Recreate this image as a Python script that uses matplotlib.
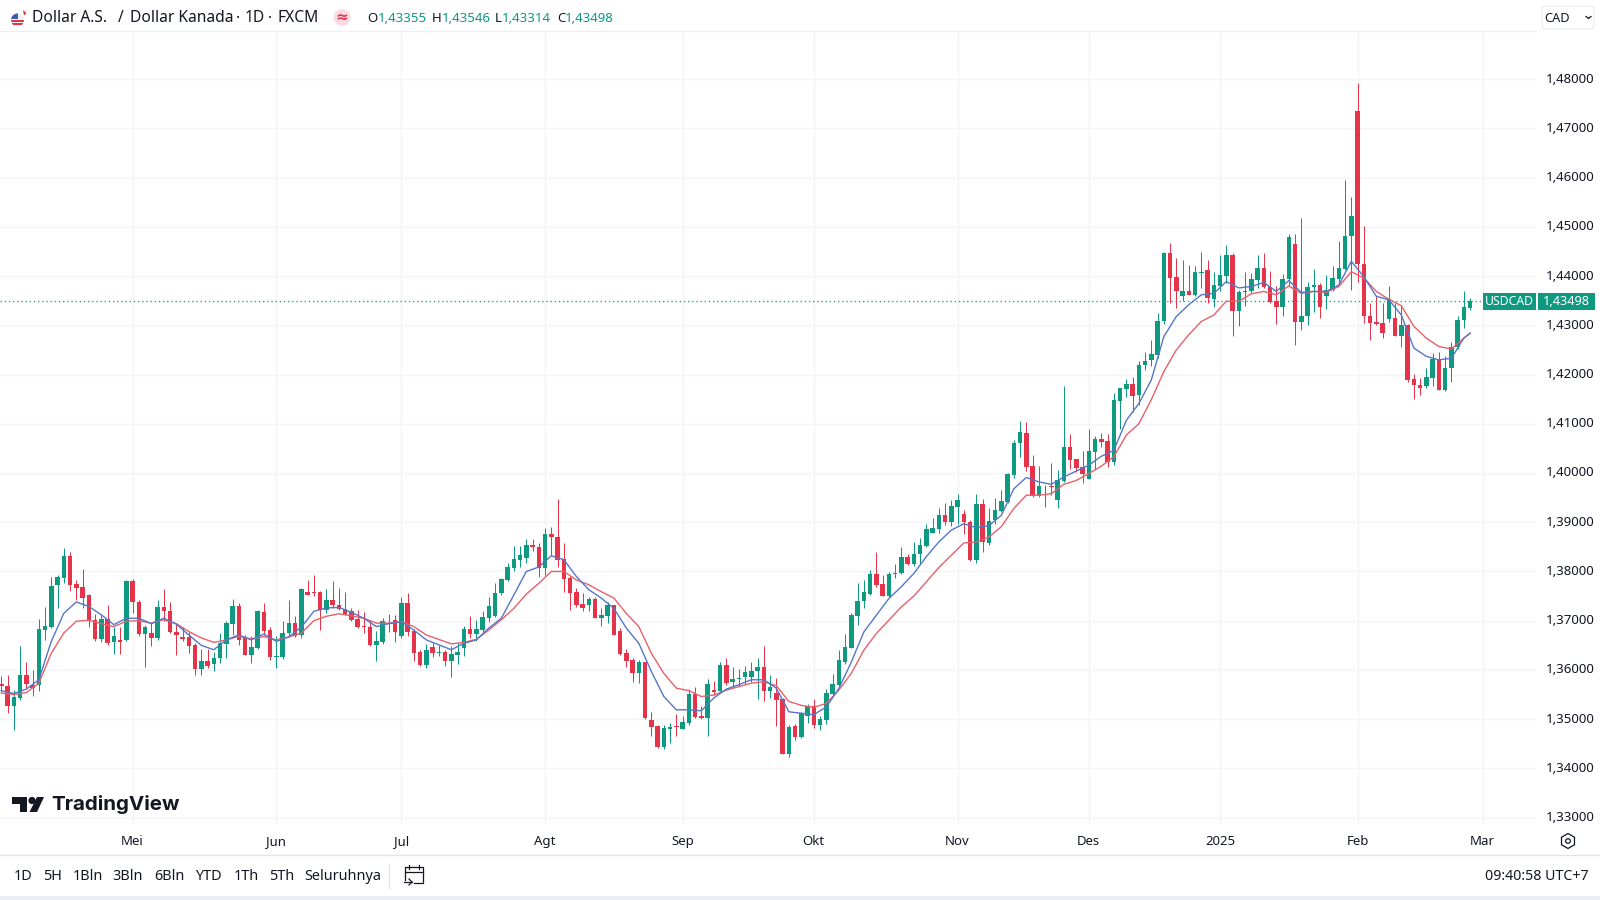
import numpy as np
import matplotlib
matplotlib.use("Agg")
import matplotlib.pyplot as plt
from matplotlib.patches import Rectangle, Circle, Polygon, FancyBboxPatch, RegularPolygon
from matplotlib.transforms import ScaledTranslation

plt.rcParams['font.family'] = ['Noto Sans', 'DejaVu Sans']

opens = [
 1.3572,1.3568,1.3526,1.3543,1.3590,1.3569,1.3570,1.3682,1.3688,1.3773,
 1.3787,1.3831,1.3775,1.3768,1.3753,1.3702,1.3663,1.3704,1.3656,1.3661,
 1.3660,1.3780,1.3739,1.3673,1.3675,1.3665,1.3727,1.3720,1.3678,1.3667,
 1.3666,1.3651,1.3602,1.3619,1.3612,1.3625,1.3653,1.3694,1.3730,1.3664,
 1.3631,1.3644,1.3718,1.3682,1.3627,1.3627,1.3675,1.3695,1.3670,1.3759,
 1.3759,1.3759,1.3722,1.3743,1.3732,1.3724,1.3719,1.3704,1.3690,1.3688,
 1.3650,1.3657,1.3701,1.3702,
 1.3668,1.3736,1.3680,1.3636,1.3609,1.3646,1.3635,1.3636,1.3619,1.3631,
 1.3644,1.3683,1.3673,1.3681,1.3706,1.3710,1.3756,1.3783,1.3807,1.3824,
 1.3827,1.3853,1.3849,1.3807,1.3876,1.3870,1.3825,1.3786,1.3758,1.3734,
 1.3732,1.3744,1.3705,1.3710,1.3731,1.3679,1.3634,1.3620,1.3593,1.3616,
 1.3499,1.3487,1.3443,1.3481,1.3486,1.3481,1.3493,1.3551,1.3507,1.3502,
 1.3559,1.3557,1.3610,1.3575,1.3581,1.3585,1.3585,1.3597,1.3606,1.3558,
 1.3554,1.3541,1.3430,1.3486,1.3463,1.3507,1.3526,
 1.3488,1.3499,1.3552,1.3569,1.3616,1.3645,1.3709,1.3740,1.3754,1.3795,
 1.3774,1.3750,1.3794,1.3796,1.3830,1.3815,1.3835,1.3851,1.3879,1.3887,
 1.3914,1.3901,1.3931,1.3916,1.3901,1.3823,1.3938,1.3858,1.3904,1.3923,
 1.3941,1.3997,1.4060,1.4081,1.4014,1.3954,1.3974,1.3973,1.3945,1.3983,
 1.4053,1.4028,1.4013,1.3987,1.4043,1.4069,1.4065,1.4023,1.4147,1.4170,
 1.4180,
 1.4158,1.4219,1.4229,1.4240,1.4308,1.4447,1.4398,1.4359,1.4370,1.4362,
 1.4407,1.4413,1.4354,1.4380,1.4401,1.4443,1.4330,1.4367,1.4369,1.4393,
 1.4416,1.4378,1.4349,1.4338,1.4394,1.4466,1.4306,1.4318,1.4377,1.4382,
 1.4359,1.4371,1.4394,1.4415,1.4481,1.4736,1.4425,1.4319,1.4306,1.4304,
 1.4313,1.4315,1.4279,1.4301,1.4191,1.4179,1.4177,1.4193,1.4230,1.4168,
 1.4214,1.4256,1.4310,1.43355]

highs = [
 1.3587,1.3590,1.3560,1.3648,1.3617,1.3600,1.3703,1.3727,1.3788,1.3793,
 1.3847,1.3839,1.3783,1.3805,1.3754,1.3714,1.3712,1.3732,1.3688,1.3688,
 1.3783,1.3785,1.3743,1.3692,1.3695,1.3743,1.3765,1.3739,1.3695,1.3688,
 1.3678,1.3655,1.3642,1.3642,1.3637,1.3675,1.3699,1.3744,1.3736,1.3671,
 1.3668,1.3721,1.3736,1.3688,1.3669,1.3699,1.3743,1.3709,1.3766,1.3783,
 1.3793,1.3761,1.3764,1.3780,1.3766,1.3758,1.3726,1.3722,1.3717,1.3702,
 1.3680,1.3705,1.3714,1.3712,
 1.3749,1.3756,1.3683,1.3641,1.3653,1.3654,1.3650,1.3641,1.3648,1.3654,
 1.3689,1.3709,1.3702,1.3719,1.3749,1.3776,1.3786,1.3817,1.3851,1.3851,
 1.3866,1.3866,1.3858,1.3888,1.3890,1.3947,1.3858,1.3790,1.3766,1.3757,
 1.3748,1.3748,1.3725,1.3739,1.3732,1.3685,1.3642,1.3624,1.3620,1.3617,
 1.3514,1.3488,1.3488,1.3492,1.3510,1.3507,1.3561,1.3566,1.3526,1.3582,
 1.3578,1.3617,1.3624,1.3606,1.3602,1.3608,1.3617,1.3624,1.3648,1.3590,
 1.3583,1.3543,1.3488,1.3490,1.3515,1.3531,1.3541,
 1.3506,1.3562,1.3591,1.3640,1.3674,1.3715,1.3776,1.3782,1.3804,1.3839,
 1.3793,1.3799,1.3815,1.3850,1.3836,1.3860,1.3868,1.3897,1.3908,1.3929,
 1.3939,1.3945,1.3958,1.3925,1.3904,1.3957,1.3948,1.3928,1.3950,1.3966,
 1.4000,1.4067,1.4105,1.4103,1.4036,1.4014,1.3975,1.4021,1.4007,1.4176,
 1.4079,1.4029,1.4044,1.4089,1.4075,1.4081,1.4079,1.4163,1.4173,1.4192,
 1.4195,
 1.4227,1.4245,1.4271,1.4325,1.4450,1.4467,1.4436,1.4433,1.4422,1.4420,
 1.4449,1.4433,1.4409,1.4443,1.4463,1.4448,1.4372,1.4409,1.4406,1.4443,
 1.4447,1.4411,1.4379,1.4404,1.4486,1.4486,1.4518,1.4389,1.4415,1.4386,
 1.4403,1.4421,1.4472,1.4596,1.4560,1.4793,1.4502,1.4345,1.4359,1.4345,
 1.4379,1.4345,1.4342,1.4302,1.4202,1.4193,1.4213,1.4244,1.4245,1.4237,
 1.4267,1.4318,1.4369,1.43546]

lows = [
 1.3556,1.3512,1.3478,1.3538,1.3563,1.3548,1.3558,1.3661,1.3685,1.3726,
 1.3776,1.3761,1.3743,1.3726,1.3688,1.3658,1.3656,1.3651,1.3633,1.3633,
 1.3658,1.3715,1.3668,1.3606,1.3649,1.3661,1.3699,1.3675,1.3631,1.3658,
 1.3634,1.3590,1.3590,1.3604,1.3597,1.3615,1.3624,1.3671,1.3651,1.3631,
 1.3615,1.3642,1.3671,1.3621,1.3604,1.3622,1.3668,1.3667,1.3665,1.3753,
 1.3751,1.3682,1.3715,1.3726,1.3722,1.3712,1.3699,1.3685,1.3675,1.3649,
 1.3619,1.3653,1.3678,1.3656,
 1.3665,1.3668,1.3619,1.3608,1.3604,1.3627,1.3629,1.3608,1.3585,1.3612,
 1.3629,1.3665,1.3658,1.3675,1.3698,1.3707,1.3753,1.3780,1.3800,1.3809,
 1.3817,1.3841,1.3788,1.3793,1.3834,1.3810,1.3759,1.3722,1.3727,1.3719,
 1.3719,1.3705,1.3689,1.3696,1.3671,1.3631,1.3606,1.3576,1.3573,1.3501,
 1.3465,1.3442,1.3439,1.3451,1.3466,1.3480,1.3488,1.3502,1.3501,1.3466,
 1.3549,1.3553,1.3570,1.3566,1.3568,1.3571,1.3576,1.3541,1.3536,1.3543,
 1.3487,1.3429,1.3423,1.3458,1.3461,1.3492,1.3482,
 1.3478,1.3491,1.3547,1.3567,1.3612,1.3644,1.3691,1.3725,1.3752,1.3769,
 1.3750,1.3747,1.3786,1.3795,1.3813,1.3811,1.3815,1.3849,1.3878,1.3878,
 1.3894,1.3892,1.3897,1.3876,1.3822,1.3818,1.3840,1.3853,1.3897,1.3921,
 1.3939,1.3989,1.4033,1.4004,1.3952,1.3952,1.3931,1.3955,1.3929,1.3982,
 1.4009,1.4002,1.3980,1.3987,1.4009,1.4052,1.4013,1.4016,1.4090,1.4155,
 1.4124,
 1.4139,1.4210,1.4217,1.4233,1.4303,1.4345,1.4336,1.4349,1.4362,1.4360,
 1.4376,1.4346,1.4338,1.4369,1.4386,1.4279,1.4298,1.4340,1.4365,1.4376,
 1.4376,1.4345,1.4303,1.4319,1.4379,1.4260,1.4291,1.4301,1.4328,1.4315,
 1.4334,1.4369,1.4386,1.4413,1.4371,1.4389,1.4304,1.4271,1.4301,1.4274,
 1.4306,1.4279,1.4256,1.4184,1.4151,1.4159,1.4172,1.4176,1.4168,1.4167,
 1.4184,1.4252,1.4294,1.43314]

closes = [
 1.3568,1.3527,1.3544,1.3590,1.3572,1.3563,1.3684,1.3690,1.3770,1.3789,
 1.3831,1.3773,1.3767,1.3746,1.3699,1.3663,1.3704,1.3655,1.3668,1.3657,
 1.3780,1.3738,1.3673,1.3687,1.3665,1.3727,1.3719,1.3677,1.3670,1.3663,
 1.3649,1.3602,1.3619,1.3608,1.3625,1.3655,1.3695,1.3730,1.3661,1.3631,
 1.3646,1.3719,1.3680,1.3626,1.3629,1.3676,1.3695,1.3668,1.3765,1.3753,
 1.3757,1.3722,1.3743,1.3732,1.3724,1.3714,1.3702,1.3688,1.3688,1.3650,
 1.3658,1.3700,1.3702,1.3677,
 1.3736,1.3678,1.3635,1.3609,1.3641,1.3635,1.3637,1.3619,1.3633,1.3636,
 1.3683,1.3673,1.3683,1.3707,1.3729,1.3757,1.3785,1.3809,1.3826,1.3834,
 1.3853,1.3849,1.3807,1.3876,1.3870,1.3824,1.3785,1.3757,1.3732,1.3725,
 1.3744,1.3705,1.3712,1.3731,1.3671,1.3633,1.3618,1.3593,1.3616,1.3503,
 1.3485,1.3443,1.3482,1.3485,1.3484,1.3494,1.3551,1.3505,1.3502,1.3571,
 1.3555,1.3610,1.3574,1.3582,1.3583,1.3595,1.3598,1.3605,1.3558,1.3566,
 1.3539,1.3430,1.3485,1.3463,1.3512,1.3526,1.3488,
 1.3501,1.3554,1.3572,1.3620,1.3647,1.3711,1.3741,1.3759,1.3795,1.3772,
 1.3750,1.3795,1.3797,1.3830,1.3815,1.3836,1.3853,1.3887,1.3889,1.3914,
 1.3901,1.3933,1.3945,1.3900,1.3823,1.3938,1.3859,1.3902,1.3925,1.3943,
 1.3998,1.4061,1.4083,1.4013,1.3953,1.3973,1.3973,1.3971,1.3985,1.4053,
 1.4026,1.4011,1.3998,1.4044,1.4069,1.4063,1.4023,1.4149,1.4172,1.4180,
 1.4156,
 1.4220,1.4228,1.4242,1.4309,1.4447,1.4397,1.4369,1.4370,1.4362,1.4408,
 1.4409,1.4355,1.4382,1.4403,1.4443,1.4330,1.4367,1.4370,1.4394,1.4416,
 1.4378,1.4348,1.4338,1.4395,1.4479,1.4306,1.4319,1.4377,1.4382,1.4338,
 1.4372,1.4396,1.4416,1.4482,1.4522,1.4425,1.4318,1.4304,1.4302,1.4284,
 1.4354,1.4279,1.4301,1.4189,1.4178,1.4172,1.4195,1.4231,1.4168,1.4214,
 1.4257,1.4311,1.4337,1.43498]

# moving averages, read every second bar (plus the last bar)
ma_index = list(range(0, 235, 2)) + [235]
ma_fast = [
 1.3558,1.3552,1.3561,1.3580,1.3658,1.3715,1.3738,1.3729,1.3712,1.3692,
 1.3705,1.3705,1.3694,1.3705,1.3693,1.3671,1.3650,1.3641,1.3661,1.3671,
 1.3661,1.3673,1.3658,1.3667,1.3687,1.3719,1.3726,1.3727,1.3717,1.3705,
 1.3688,1.3694,
 1.3698,1.3681,1.3661,1.3651,1.3641,1.3654,1.3661,1.3685,1.3705,1.3752,
 1.3800,1.3809,1.3832,1.3824,1.3790,1.3763,1.3746,1.3725,1.3685,1.3654,
 1.3597,1.3546,1.3519,1.3519,1.3517,1.3543,1.3561,1.3570,1.3580,1.3580,
 1.3563,1.3515,1.3512,1.3509,
 1.3525,1.3562,1.3616,1.3677,1.3711,1.3745,1.3769,1.3796,1.3830,1.3860,
 1.3884,1.3897,1.3889,1.3893,1.3914,1.3968,1.3991,1.3982,1.3977,1.3992,
 1.4004,1.4016,1.4034,1.4046,1.4107,1.4141,
 1.4189,1.4277,1.4318,1.4342,1.4362,1.4365,1.4389,1.4376,1.4379,1.4387,
 1.4369,1.4391,1.4367,1.4369,1.4369,1.4382,1.4430,1.4399,1.4359,1.4352,
 1.4321,1.4254,1.4237,1.4230,1.4233,1.4274,1.4284]
ma_slow = [
 1.3553,1.3550,1.3554,1.3573,1.3634,1.3675,1.3699,1.3701,1.3694,1.3688,
 1.3699,1.3700,1.3695,1.3702,1.3694,1.3678,1.3665,1.3656,1.3661,1.3668,
 1.3663,1.3668,1.3661,1.3667,1.3675,1.3700,1.3709,1.3714,1.3710,1.3705,
 1.3695,1.3695,
 1.3698,1.3688,1.3671,1.3662,1.3653,1.3656,1.3662,1.3681,1.3702,1.3725,
 1.3754,1.3776,1.3800,1.3800,1.3783,1.3773,1.3759,1.3746,1.3715,1.3688,
 1.3634,1.3593,1.3563,1.3558,1.3546,1.3549,1.3559,1.3566,1.3573,1.3576,
 1.3568,1.3536,1.3528,1.3524,
 1.3532,1.3559,1.3593,1.3640,1.3674,1.3701,1.3728,1.3750,1.3779,1.3808,
 1.3833,1.3858,1.3860,1.3870,1.3891,1.3928,1.3955,1.3955,1.3958,1.3977,
 1.3985,1.3999,1.4014,1.4033,1.4077,1.4100,
 1.4149,1.4206,1.4250,1.4281,1.4308,1.4321,1.4349,1.4349,1.4364,1.4369,
 1.4362,1.4380,1.4365,1.4369,1.4367,1.4379,1.4409,1.4396,1.4369,1.4353,
 1.4340,1.4298,1.4274,1.4257,1.4252,1.4274,1.4284]

month_pos = [21, 44, 64, 87, 109, 130, 153, 174, 195, 217, 237]
month_labels = ['Mei', 'Jun', 'Jul', 'Agt', 'Sep', 'Okt', 'Nov', 'Des', '2025', 'Feb', 'Mar']
price_ticks = [1.33, 1.34, 1.35, 1.36, 1.37, 1.38, 1.39, 1.40, 1.41, 1.42,
               1.43, 1.44, 1.45, 1.46, 1.47, 1.48]
last_price = 1.43498
range_labels = ['1D', '5H', '1Bln', '3Bln', '6Bln', 'YTD', '1Th', '5Th', 'Seluruhnya']

UP, DOWN = '#0e9a80', '#e5344a'
INK, GRID = '#131722', '#f2f4f8'

fig = plt.figure(figsize=(16, 9), dpi=100, facecolor='white')
ax = fig.add_axes([0, 1 - 824 / 900, 1536 / 1600, (824 - 31) / 900])
x = np.arange(len(opens))
o, h, l, c = map(np.array, (opens, highs, lows, closes))
colors = np.where(c >= o, UP, DOWN)

ax.vlines(x, l, h, colors=colors, linewidth=0.72, zorder=3)
ax.bar(x, np.maximum(np.abs(c - o), 0.00012), bottom=np.minimum(o, c), width=0.72,
       color=colors, linewidth=0, zorder=4)
ax.plot(ma_index, ma_slow, color='#e8606c', lw=1.0, zorder=5, solid_joinstyle='round')
ax.plot(ma_index, ma_fast, color='#5577c8', lw=1.0, zorder=6, solid_joinstyle='round')
ax.axhline(last_price, color='#2aa58e', lw=1.0, ls=(0, (1, 2)), dash_capstyle='butt', zorder=2)

ax.set_xlim(-0.21, 245.55)
ax.set_ylim(1.3287, 1.4898)
ax.set_xticks(month_pos)
ax.set_xticklabels(month_labels)
ax.set_yticks(price_ticks)
ax.set_yticklabels([f'{p:.5f}'.replace('.', ',') for p in price_ticks])
ax.yaxis.tick_right()
ax.tick_params(axis='y', length=0, pad=7, labelsize=9.5, labelcolor=INK)
ax.tick_params(axis='x', length=0, pad=8, labelsize=9.5, labelcolor=INK)
ax.get_xticklabels()[8].set_fontweight('bold')
up_shift = ScaledTranslation(0, 1.6 / 100, fig.dpi_scale_trans)
for lab in ax.get_yticklabels():
    lab.set_transform(lab.get_transform() + up_shift)
ax.grid(True, color=GRID, lw=1, zorder=0)
ax.set_axisbelow(True)
for s in ax.spines.values():
    s.set_visible(False)

# window furniture, in pixel coordinates
ui = fig.add_axes([0, 0, 1, 1], facecolor='none')
ui.set_xlim(0, 1600)
ui.set_ylim(900, 0)
ui.axis('off')

ui.plot([0, 1600], [855, 855], color='#e0e3eb', lw=1)
ui.plot([0, 1536], [31, 31], color='#eef0f5', lw=1)
ui.add_patch(Rectangle((0, 896), 1600, 4, color='#eceef3', lw=0))

# header
flag = Circle((17.5, 20), 6.5, color='#eef1f8', lw=0)
ui.add_patch(flag)
for rx, ry, rw, rh, col in [(11, 13, 6.5, 6, '#3a5fb0'), (11, 20, 13, 1.8, '#e5344a'), (11, 23.2, 13, 1.8, '#e5344a')]:
    stripe = Rectangle((rx, ry), rw, rh, color=col, lw=0)
    ui.add_patch(stripe)
    stripe.set_clip_path(flag)
ui.add_patch(Polygon([(23, 10), (26.5, 13), (24, 15.5)], color='#e5344a', lw=0))
for hx, htxt in [(32, 'Dollar A.S.'), (118, '/'), (130, 'Dollar Kanada'), (235.5, '·'),
                 (245, '1D'), (268, '·'), (277.5, 'FXCM')]:
    ui.text(hx, 18.5, htxt, fontsize=11.2, color=INK, va='center', ha='left')
ui.add_patch(Circle((342, 17.5), 8.5, color='#fbdce6', lw=0))
ui.text(342, 17, '≈', fontsize=11, color='#e5344a', va='center', ha='center', fontweight='bold', family='DejaVu Sans')
for lx, vx, let, val in [(367, 378, 'O', '1,43355'), (432, 442, 'H', '1,43546'),
                         (495, 502, 'L', '1,43314'), (557, 565, 'C', '1,43498')]:
    ui.text(lx, 18, let, fontsize=9.5, color=INK, va='center', ha='left')
    ui.text(vx, 18, val, fontsize=9.5, color='#089981', va='center', ha='left')

# currency box
ui.add_patch(FancyBboxPatch((1542, 6), 52, 23, boxstyle='round,pad=0,rounding_size=3',
                            fc='white', ec='#eceef3', lw=1))
ui.text(1544, 18.5, 'CAD', fontsize=9.2, color=INK, va='center', ha='left')
ui.plot([1586, 1588.5, 1591], [16.5, 18.5, 16.5], color=INK, lw=0.9)

# last price tag
ui.add_patch(Rectangle((1483, 293), 53, 17, color=UP, lw=0))
ui.add_patch(Rectangle((1538, 293), 57, 17, color=UP, lw=0))
ui.text(1509.5, 301.5, 'USDCAD', fontsize=8.8, color='white', va='center', ha='center', fontweight='medium')
ui.text(1566.5, 301.5, '1,43498', fontsize=9.2, color='white', va='center', ha='center', fontweight='medium')

# logo
ui.add_patch(Polygon([(12, 797), (27, 797), (27, 812), (20, 812), (20, 803.5), (12, 803.5)], color=INK, lw=0))
ui.add_patch(Circle((32, 800.5), 3.6, color=INK, lw=0))
ui.add_patch(Polygon([(37, 797), (44, 797), (37, 812), (29.5, 812)], color=INK, lw=0))
ui.text(51, 804.5, 'TradingView', fontsize=14.8, color=INK, va='center', ha='left', fontweight='bold', family='Inter')

# range buttons
for px, lab in zip([23.5, 52.7, 87.7, 128, 169, 208, 246, 282, 342.7], range_labels):
    ui.text(px, 877, lab, fontsize=10.4, color=INK, va='center', ha='center')
ui.plot([389, 389], [864, 888], color='#e0e3eb', lw=1)

# calendar icon
ui.plot([405, 405, 422.5, 422.5, 414], [880, 867, 867, 883, 883], color=INK, lw=0.9)
ui.plot([405, 422.5], [872, 872], color=INK, lw=0.9)
ui.plot([409, 409], [865, 869], color=INK, lw=0.9)
ui.plot([418.5, 418.5], [865, 869], color=INK, lw=0.9)
ui.plot([404, 412], [882, 882], color=INK, lw=0.9)
ui.plot([409, 412, 409], [879, 882, 885], color=INK, lw=0.9)

# settings icon
ui.add_patch(RegularPolygon((1568, 841), 6, radius=7.5, fc='white', ec=INK, lw=0.9))
ui.add_patch(Circle((1568, 841), 2.3, fc='white', ec=INK, lw=0.9))

ui.text(1589, 877, '09:40:58 UTC+7', fontsize=10.2, color=INK, va='center', ha='right')

fig.savefig('out.png', dpi=100, facecolor='white')
